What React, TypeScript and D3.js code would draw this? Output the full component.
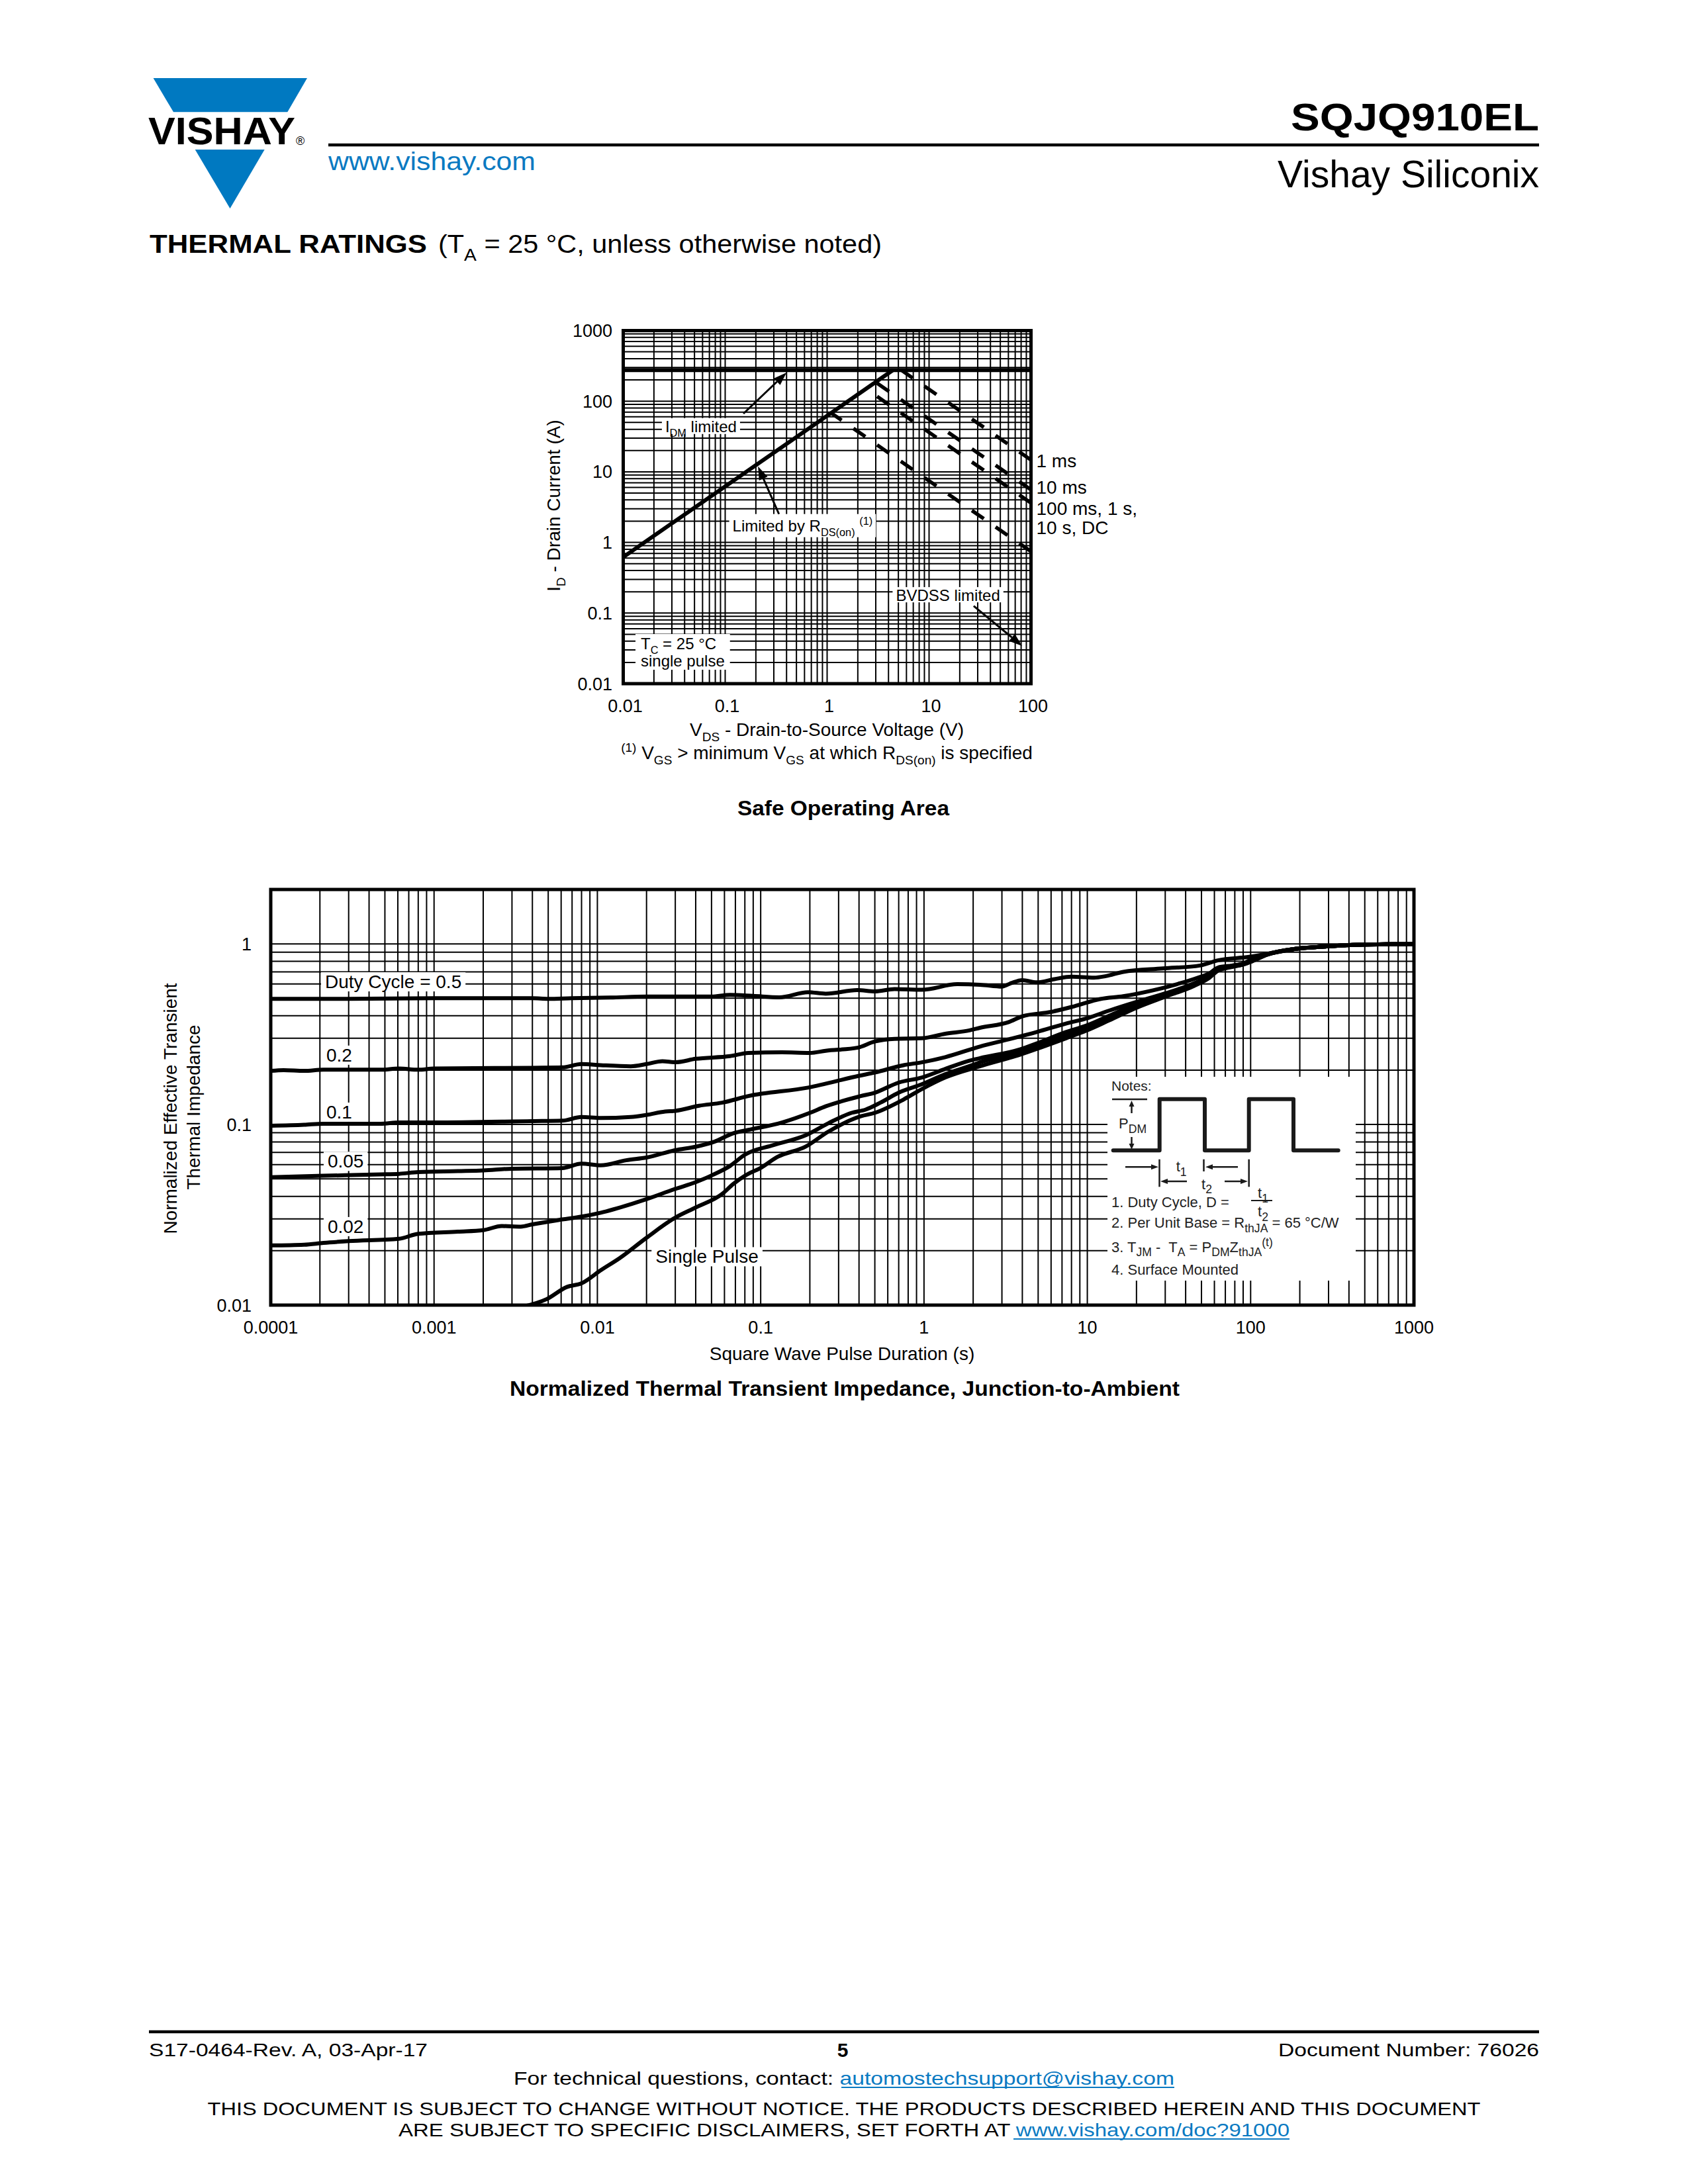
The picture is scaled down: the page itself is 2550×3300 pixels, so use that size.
import React from 'react';
import * as d3 from 'd3';

const FONT = '"Liberation Sans", Arial, Helvetica, sans-serif';
const BLUE = '#0a7ac2';

/* ---------------- Safe Operating Area (log-log) ---------------- */
const soaXTickValues = [0.01, 0.1, 1, 10, 100];
const soaXTickLabels = ['0.01', '0.1', '1', '10', '100'];
const soaYTickValues = [0.01, 0.1, 1, 10, 100, 1000];
const soaYTickLabels = ['0.01', '0.1', '1', '10', '100', '1000'];
const soaIdmLimit = 275; // A
const soaRdsLimit: [number, number][] = [[0.01, 0.62], [4.42, 275]];
const soaPulse1ms: [number, number][] = [[5.35, 275], [100, 14.7]];
const soaPulse10ms: [number, number][] = [[2.99, 186], [100, 5.57]];
const soaPulse100ms: [number, number][] = [[2.41, 150], [100, 3.62]];
const soaPulseDC: [number, number][] = [[1.095, 68], [100, 0.745]];
const soaDurationLabels = ['1 ms', '10 ms', '100 ms, 1 s,', '10 s, DC'];
const soaDurationLabelI = [14.4, 6.07, 3.04, 1.63];

/* ---------------- Normalized thermal transient impedance ---------------- */
const zthXTickValues = [1e-4, 1e-3, 0.01, 0.1, 1, 10, 100, 1000];
const zthXTickLabels = ['0.0001', '0.001', '0.01', '0.1', '1', '10', '100', '1000'];
const zthYTickValues = [0.01, 0.1, 1];
const zthYTickLabels = ['0.01', '0.1', '1'];

const zthDuty05: [number, number][] = [
  [0.0001, 0.496], [0.0003, 0.496], [0.001, 0.5], [0.004, 0.5], [0.005, 0.496], [0.007, 0.5],
  [0.012, 0.504], [0.02, 0.511], [0.05, 0.511], [0.065, 0.522], [0.09, 0.515], [0.13, 0.506],
  [0.195, 0.54], [0.25, 0.53], [0.39, 0.555], [0.5, 0.546], [0.66, 0.562], [0.97, 0.557],
  [1.6, 0.598], [2.2, 0.594], [3.0, 0.58], [3.4, 0.605], [4.0, 0.63], [4.9, 0.612], [6.3, 0.638],
  [8.0, 0.658], [11, 0.65], [13, 0.663], [16.6, 0.7], [29, 0.731], [49, 0.759], [63, 0.81],
  [98, 0.847], [126, 0.878], [188, 0.938], [282, 0.966], [423, 0.987], [1000, 1.0],
];
const zthDuty02: [number, number][] = [
  [0.0001, 0.198], [0.00012, 0.2], [0.00016, 0.198], [0.00021, 0.201], [0.00047, 0.201],
  [0.00061, 0.204], [0.0008, 0.201], [0.001, 0.204], [0.004, 0.206], [0.0061, 0.207],
  [0.008, 0.216], [0.0105, 0.213], [0.016, 0.21], [0.02, 0.216], [0.025, 0.224], [0.03, 0.221],
  [0.04, 0.231], [0.065, 0.239], [0.084, 0.249], [0.135, 0.251], [0.2, 0.249], [0.25, 0.256],
  [0.39, 0.266], [0.5, 0.288], [0.66, 0.298], [0.97, 0.3], [1.35, 0.318], [1.9, 0.332],
  [2.2, 0.343], [3.3, 0.369], [4.0, 0.397], [6.0, 0.42], [8.3, 0.451], [12, 0.495], [16.6, 0.513],
  [25, 0.552], [37, 0.605], [47.5, 0.65], [56, 0.687], [63, 0.739], [77, 0.759], [91, 0.781],
  [102, 0.826], [126, 0.878], [188, 0.938], [282, 0.966], [423, 0.987], [1000, 1.0],
];
const zthDuty01: [number, number][] = [
  [0.0001, 0.0984], [0.00016, 0.0996], [0.00021, 0.101], [0.00047, 0.101], [0.00061, 0.1026],
  [0.001, 0.1026], [0.004, 0.1044], [0.0061, 0.105], [0.008, 0.11], [0.0105, 0.1086],
  [0.016, 0.11], [0.02, 0.113], [0.026, 0.118], [0.03, 0.119], [0.042, 0.127], [0.058, 0.132],
  [0.084, 0.1436], [0.195, 0.16], [0.4, 0.186], [0.5, 0.194], [0.75, 0.213], [0.97, 0.221],
  [1.35, 0.236], [2.2, 0.27], [3.3, 0.296], [4.9, 0.325], [7.4, 0.362], [10.2, 0.39],
  [13.6, 0.427], [20, 0.477], [30, 0.532], [45, 0.605], [56, 0.665], [63, 0.725], [77, 0.755],
  [91, 0.778], [102, 0.815], [126, 0.876], [188, 0.938], [282, 0.966], [423, 0.987], [1000, 1.0],
];
const zthDuty005: [number, number][] = [
  [0.0001, 0.0511], [0.00021, 0.052], [0.00047, 0.0529], [0.00061, 0.0533], [0.0008, 0.0545],
  [0.0014, 0.0552], [0.002, 0.0557], [0.003, 0.0569], [0.0061, 0.0574], [0.008, 0.0607],
  [0.0105, 0.0594], [0.015, 0.0634], [0.02, 0.0656], [0.03, 0.0721], [0.04, 0.0753],
  [0.052, 0.0803], [0.068, 0.0894], [0.084, 0.0933], [0.135, 0.1026], [0.2, 0.116], [0.25, 0.126],
  [0.41, 0.1436], [0.5, 0.15], [0.7, 0.1706], [0.97, 0.182], [1.35, 0.203], [1.9, 0.2256],
  [2.2, 0.233], [3.9, 0.261], [4.9, 0.281], [7.4, 0.325], [9.8, 0.352], [13.6, 0.4], [20, 0.465],
  [30, 0.525], [45, 0.597], [56, 0.66], [63, 0.72], [77, 0.752], [91, 0.775], [102, 0.81],
  [126, 0.874], [188, 0.938], [282, 0.966], [423, 0.987], [1000, 1.0],
];
const zthDuty002: [number, number][] = [
  [0.0001, 0.0214], [0.00016, 0.0216], [0.00021, 0.0221], [0.0003, 0.0226], [0.00061, 0.0233],
  [0.0008, 0.0248], [0.0014, 0.0255], [0.002, 0.026], [0.0026, 0.0274], [0.0034, 0.0272],
  [0.004, 0.028], [0.0061, 0.0298], [0.008, 0.0309], [0.0105, 0.0325], [0.016, 0.0362],
  [0.02, 0.0386], [0.03, 0.044], [0.04, 0.0479], [0.05, 0.0522], [0.065, 0.059], [0.08, 0.068],
  [0.12, 0.0769], [0.19, 0.0875], [0.26, 0.1017], [0.36, 0.116], [0.44, 0.121], [0.54, 0.132],
  [0.7, 0.15], [0.97, 0.167], [1.35, 0.19], [2.0, 0.214], [2.2, 0.221], [3.9, 0.25], [4.9, 0.27],
  [7.4, 0.31], [9.8, 0.34], [13.6, 0.387], [20, 0.452], [30, 0.515], [45, 0.59], [56, 0.655],
  [63, 0.715], [77, 0.748], [91, 0.772], [102, 0.805], [126, 0.872], [188, 0.938], [282, 0.966],
  [423, 0.987], [1000, 1.0],
];
const zthSinglePulse: [number, number][] = [
  [0.0035, 0.0098], [0.0049, 0.0108], [0.0065, 0.0126], [0.008, 0.0132], [0.0105, 0.0156],
  [0.0137, 0.0182], [0.02, 0.0236], [0.03, 0.0305], [0.04, 0.0347], [0.058, 0.0412],
  [0.068, 0.0469], [0.084, 0.0533], [0.098, 0.0569], [0.127, 0.0662], [0.188, 0.0753],
  [0.26, 0.0914], [0.41, 0.111], [0.5, 0.116], [0.75, 0.1375], [0.97, 0.157], [1.35, 0.182],
  [2.2, 0.21], [3.9, 0.244], [4.9, 0.262], [7.4, 0.3], [9.8, 0.33], [13.6, 0.377], [20, 0.443],
  [30, 0.51], [45, 0.585], [56, 0.65], [63, 0.71], [77, 0.745], [91, 0.77], [102, 0.8],
  [126, 0.87], [188, 0.938], [282, 0.966], [423, 0.987], [1000, 1.0],
];
const zthCurves = [zthDuty05, zthDuty02, zthDuty01, zthDuty005, zthDuty002, zthSinglePulse];
const zthCurveLabels = ['Duty Cycle = 0.5', '0.2', '0.1', '0.05', '0.02', 'Single Pulse'];
const zthCurveLabelAt: [number, number][] = [
  [2.15e-4, 0.569], [2.19e-4, 0.2233], [2.19e-4, 0.108], [2.23e-4, 0.0577], [2.23e-4, 0.0251], [0.0227, 0.0171],
];

/* ---------------- helpers ---------------- */
let _ctx: CanvasRenderingContext2D | null = null;
function textW(t: string, size: number, weight: string | number = 'normal') {
  if (!_ctx) _ctx = document.createElement('canvas').getContext('2d');
  _ctx!.font = `${weight} ${size}px ${FONT}`;
  return _ctx!.measureText(t).width;
}
type Seg = [string, string?];
const SUB = 0.68;
function richW(segs: Seg[], size: number, weight: string | number = 'normal', sub = SUB) {
  return segs.reduce((s, [t, k]) => s + textW(t, k ? size * sub : size, weight), 0);
}
function Rich({ x, y, segs, size, anchor = 'start', weight = 'normal', fill = '#000', transform, textLength, sub = SUB }: any) {
  let cur = 0;
  return (
    <text x={x} y={y} fontSize={size} fontWeight={weight} textAnchor={anchor} fill={fill}
      transform={transform} textLength={textLength} lengthAdjust={textLength ? 'spacingAndGlyphs' : undefined}
      style={{ whiteSpace: 'pre' }}>
      {segs.map(([t, k]: Seg, i: number) => {
        const target = k === 'sub' ? size * 0.3 : k === 'sup' ? -size * 0.4 : 0;
        const dy = target - cur;
        cur = target;
        return <tspan key={i} dy={dy} fontSize={k ? size * sub : size}>{t}</tspan>;
      })}
    </text>
  );
}
function Arrow({ x1, y1, x2, y2, w = 3, head = 20, half = 7, color = '#000' }: any) {
  const a = Math.atan2(y2 - y1, x2 - x1);
  const bx = x2 - head * Math.cos(a), by = y2 - head * Math.sin(a);
  const px = -Math.sin(a) * half, py = Math.cos(a) * half;
  return (
    <g>
      <line x1={x1} y1={y1} x2={bx} y2={by} stroke={color} strokeWidth={w} />
      <polygon points={`${x2},${y2} ${bx + px},${by + py} ${bx - px},${by - py}`} fill={color} />
    </g>
  );
}
function logGrid(min: number, max: number) {
  const out: number[] = [];
  for (let e = Math.floor(Math.log10(min)); e <= Math.ceil(Math.log10(max)); e++) {
    for (let m = 1; m <= 9; m++) {
      const v = m * Math.pow(10, e);
      if (v >= min * 0.9999 && v <= max * 1.0001) out.push(v);
    }
  }
  return out;
}

/* ---------------- Safe Operating Area chart ---------------- */
function SOAChart() {
  const x = d3.scaleLog().domain([0.01, 100]).range([941.5, 1557.5]);
  const y = d3.scaleLog().domain([0.01, 1000]).range([1033, 499.5]);
  const L = 941.5, R = 1557.5, T = 499.5, B = 1033;
  const DASH_PERIOD = 35.8, DASH_LEN = 18;
  const phase = x(1.06);
  const dashSegs = (p: [number, number][]) => {
    const x0 = x(p[0][0]), y0 = y(p[0][1]), x1 = x(p[1][0]), y1 = y(p[1][1]);
    const m = (y1 - y0) / (x1 - x0);
    const segs: number[][] = [];
    for (let k = Math.floor((x0 - phase) / DASH_PERIOD); phase + k * DASH_PERIOD < x1; k++) {
      const a = Math.max(x0, phase + k * DASH_PERIOD);
      const b = Math.min(x1, phase + k * DASH_PERIOD + DASH_LEN);
      if (b > a) segs.push([a, y0 + m * (a - x0), b, y0 + m * (b - x0)]);
    }
    return segs;
  };
  const pulses = [soaPulse1ms, soaPulse10ms, soaPulse100ms, soaPulseDC];

  const idmSegs: Seg[] = [['I'], ['DM', 'sub'], [' limited']];
  const idmX = x(0.0258), idmY = y(36.6);
  const idmW = richW(idmSegs, 24);
  const rdsSegs: Seg[] = [['Limited by R'], ['DS(on)', 'sub'], [' '], ['(1)', 'sup']];
  const rdsX = x(0.118), rdsY = y(1.44);
  const rdsW = richW(rdsSegs, 24);
  const tcSegs: Seg[] = [['T'], ['C', 'sub'], [' = 25 °C']];
  const tcX = x(0.01486);
  const tcY1 = y(0.0307), tcY2 = y(0.01754);
  const tcW = Math.max(richW(tcSegs, 24), textW('single pulse', 24));
  const bvX = x(4.73), bvY = y(0.148);
  const bvW = textW('BVDSS limited', 24);

  return (
    <g>
      <defs>
        <clipPath id="soaClip"><rect x={L} y={T} width={R - L} height={B - T} /></clipPath>
      </defs>
      {logGrid(0.01, 100).map((v, i) => (
        <line key={'vx' + i} x1={x(v)} x2={x(v)} y1={T} y2={B} stroke="#000" strokeWidth={2} />
      ))}
      {logGrid(0.01, 1000).map((v, i) => (
        <line key={'hy' + i} x1={L} x2={R} y1={y(v)} y2={y(v)} stroke="#000" strokeWidth={2} />
      ))}
      {/* label knock-outs */}
      <rect x={idmX - 5} y={idmY - 21} width={idmW + 10} height={24} fill="#fff" />
      <rect x={rdsX - 5} y={rdsY - 26} width={rdsW + 10} height={35} fill="#fff" />
      <rect x={tcX - 8} y={tcY1 - 23} width={tcW + 16} height={tcY2 - tcY1 + 28} fill="#fff" />
      <rect x={bvX - 5} y={bvY - 21} width={bvW + 10} height={23} fill="#fff" />

      <g clipPath="url(#soaClip)">
        <line x1={L} x2={R} y1={y(soaIdmLimit)} y2={y(soaIdmLimit)} stroke="#000" strokeWidth={6} />
        <line x1={x(soaRdsLimit[0][0])} y1={y(soaRdsLimit[0][1])} x2={x(soaRdsLimit[1][0])} y2={y(soaRdsLimit[1][1])}
          stroke="#000" strokeWidth={6} />
        {pulses.map((p, i) => dashSegs(p).map((s, j) => (
          <line key={`d${i}-${j}`} x1={s[0]} y1={s[1]} x2={s[2]} y2={s[3]} stroke="#000" strokeWidth={5.5} />
        )))}
      </g>

      {/* annotations */}
      <Arrow x1={x(0.151)} y1={y(66.7)} x2={x(0.40)} y2={y(254)} w={3} head={20} half={7} />
      <Arrow x1={x(0.337)} y1={y(2.52)} x2={x(0.21)} y2={y(11.9)} w={3} head={20} half={7} />
      <Arrow x1={x(27.4)} y1={y(0.126)} x2={x(81.7)} y2={y(0.0343)} w={3} head={20} half={7} />

      <Rich x={idmX} y={idmY} size={24} segs={idmSegs} />
      <Rich x={rdsX} y={rdsY} size={24} segs={rdsSegs} />
      <Rich x={tcX} y={tcY1} size={24} segs={tcSegs} />
      <text x={tcX} y={tcY2} fontSize={24}>single pulse</text>
      <text x={bvX} y={bvY} fontSize={24}>BVDSS limited</text>

      <rect x={L} y={T} width={R - L} height={B - T} fill="none" stroke="#000" strokeWidth={5} />

      {soaYTickValues.map((v, i) => (
        <text key={'yt' + i} x={925} y={y(v) + 9.5} fontSize={27} textAnchor="end">{soaYTickLabels[i]}</text>
      ))}
      {soaXTickValues.map((v, i) => (
        <text key={'xt' + i} x={x(v) + 3} y={1076} fontSize={27} textAnchor="middle">{soaXTickLabels[i]}</text>
      ))}
      {soaDurationLabels.map((t, i) => (
        <text key={'dl' + i} x={R + 8} y={y(soaDurationLabelI[i]) + 10} fontSize={28} style={{ whiteSpace: 'pre' }}>{t}</text>
      ))}
      <Rich x={1249} y={1112} size={28} anchor="middle"
        segs={[['V'], ['DS', 'sub'], [' - Drain-to-Source Voltage (V)']]} />
      <Rich x={1249} y={1147} size={28} anchor="middle"
        segs={[['(1)', 'sup'], [' V'], ['GS', 'sub'], [' > minimum V'], ['GS', 'sub'], [' at which R'], ['DS(on)', 'sub'], [' is specified']]} />
      <Rich x={846} y={764} size={28} anchor="middle" transform="rotate(-90 846 764)"
        segs={[['I'], ['D', 'sub'], [' - Drain Current (A)']]} />
      <text x={1274} y={1232} fontSize={31} fontWeight="bold" textAnchor="middle" textLength={320}
        lengthAdjust="spacingAndGlyphs">Safe Operating Area</text>
    </g>
  );
}

/* ---------------- Thermal impedance chart ---------------- */
function ZthChart() {
  const x = d3.scaleLog().domain([1e-4, 1000]).range([409, 2136]);
  const y = d3.scaleLog().domain([0.01, 2]).range([1972, 1344]);
  const L = 409, R = 2136, T = 1344, B = 1972;
  const line = d3.line<[number, number]>().x(d => x(d[0])).y(d => y(d[1])).curve(d3.curveMonotoneX);
  const ink = '#1a1a1a';
  const nt = '#222';
  const ns = 0.8;
  return (
    <g>
      <defs>
        <clipPath id="zthClip"><rect x={L} y={T} width={R - L} height={B - T} /></clipPath>
      </defs>
      {logGrid(1e-4, 1000).map((v, i) => (
        <line key={'zv' + i} x1={x(v)} x2={x(v)} y1={T} y2={B} stroke="#000" strokeWidth={2} />
      ))}
      {logGrid(0.01, 1).map((v, i) => (
        <line key={'zh' + i} x1={L} x2={R} y1={y(v)} y2={y(v)} stroke="#000" strokeWidth={2} />
      ))}
      {zthCurveLabels.map((t, i) => {
        const lx = x(zthCurveLabelAt[i][0]), ly = y(zthCurveLabelAt[i][1]);
        return <rect key={'lb' + i} x={lx - 6} y={ly - 24} width={textW(t, 28) + 12} height={29} fill="#fff" />;
      })}
      {/* notes panel */}
      <rect x={1673} y={1627} width={375} height={308} fill="#fff" />

      <g clipPath="url(#zthClip)">
        {zthCurves.map((c, i) => (
          <path key={'c' + i} d={line(c) || ''} fill="none" stroke="#000" strokeWidth={6} strokeLinejoin="round" />
        ))}
      </g>
      {zthCurveLabels.map((t, i) => (
        <text key={'lt' + i} x={x(zthCurveLabelAt[i][0])} y={y(zthCurveLabelAt[i][1])} fontSize={28}>{t}</text>
      ))}

      {/* notes content */}
      <g fill={nt} stroke="none">
        <text x={1679} y={1648} fontSize={21} fill={nt}>Notes:</text>
        <line x1={1680} y1={1661} x2={1733} y2={1661} stroke={ink} strokeWidth={2.5} />
        <Arrow x1={1709.5} y1={1682} x2={1709.5} y2={1663} w={2.5} head={9} half={4} color={ink} />
        <Rich x={1690} y={1705} size={22} fill={nt} sub={ns} segs={[['P'], ['DM', 'sub']]} />
        <Arrow x1={1709.5} y1={1718} x2={1709.5} y2={1737} w={2.5} head={9} half={4} color={ink} />
        <polyline points="1681.7,1738.3 1751.7,1738.3 1751.7,1660.7 1820,1660.7 1820,1738.3 1886.7,1738.3 1886.7,1660.7 1954,1660.7 1954,1738.3 2021.7,1738.3"
          fill="none" stroke={ink} strokeWidth={6} strokeLinejoin="round" strokeLinecap="round" />
        <Arrow x1={1700} y1={1763.3} x2={1750} y2={1763.3} w={2.5} head={11} half={4} color={ink} />
        <line x1={1751.5} y1={1751.7} x2={1751.5} y2={1793.3} stroke={ink} strokeWidth={2.5} />
        <line x1={1818.5} y1={1751.7} x2={1818.5} y2={1770} stroke={ink} strokeWidth={2.5} />
        <Arrow x1={1870} y1={1763.3} x2={1821} y2={1763.3} w={2.5} head={11} half={4} color={ink} />
        <Rich x={1776.7} y={1770} size={22} fill={nt} sub={ns} segs={[['t'], ['1', 'sub']]} />
        <Arrow x1={1793} y1={1785} x2={1753} y2={1785} w={2.5} head={11} half={4} color={ink} />
        <Arrow x1={1850} y1={1785} x2={1885} y2={1785} w={2.5} head={11} half={4} color={ink} />
        <line x1={1886.7} y1={1751.7} x2={1886.7} y2={1793.3} stroke={ink} strokeWidth={2.5} />
        <Rich x={1815} y={1796.7} size={22} fill={nt} sub={ns} segs={[['t'], ['2', 'sub']]} />
        <text x={1679} y={1824} fontSize={22} fill={nt}>1. Duty Cycle, D =</text>
        <Rich x={1900} y={1810} size={22} fill={nt} sub={ns} segs={[['t'], ['1', 'sub']]} />
        <line x1={1890} y1={1814} x2={1922} y2={1814} stroke={ink} strokeWidth={2} />
        <Rich x={1900} y={1838} size={22} fill={nt} sub={ns} segs={[['t'], ['2', 'sub']]} />
        <Rich x={1679} y={1855} size={22} fill={nt} sub={ns} segs={[['2. Per Unit Base = R'], ['thJA', 'sub'], [' = 65 °C/W']]} />
        <Rich x={1679} y={1891.7} size={22} fill={nt} sub={ns}
          segs={[['3. T'], ['JM', 'sub'], [' -  T'], ['A', 'sub'], [' = P'], ['DM', 'sub'], ['Z'], ['thJA', 'sub'], ['(t)', 'sup']]} />
        <text x={1679} y={1926} fontSize={22} fill={nt}>4. Surface Mounted</text>
      </g>

      <rect x={L} y={T} width={R - L} height={B - T} fill="none" stroke="#000" strokeWidth={5} />

      {zthYTickValues.map((v, i) => (
        <text key={'zy' + i} x={380} y={y(v) + 9.5} fontSize={27} textAnchor="end">{zthYTickLabels[i]}</text>
      ))}
      {zthXTickValues.map((v, i) => (
        <text key={'zx' + i} x={x(v)} y={2015} fontSize={27} textAnchor="middle">{zthXTickLabels[i]}</text>
      ))}
      <text x={1272} y={2055} fontSize={28} textAnchor="middle">Square Wave Pulse Duration (s)</text>
      <text x={267} y={1675} fontSize={28} textAnchor="middle" transform="rotate(-90 267 1675)">Normalized Effective Transient</text>
      <text x={302} y={1673} fontSize={28} textAnchor="middle" transform="rotate(-90 302 1673)">Thermal Impedance</text>
      <text x={1276} y={2109} fontSize={31} fontWeight="bold" textAnchor="middle" textLength={1012}
        lengthAdjust="spacingAndGlyphs">Normalized Thermal Transient Impedance, Junction-to-Ambient</text>
    </g>
  );
}

/* ---------------- page furniture ---------------- */
function Header() {
  return (
    <g>
      <polygon points="231.6,118 464,118 434.3,169.3 262,169.3" fill="#0079c1" />
      <polygon points="294.7,226 399.7,226 347.5,315" fill="#0079c1" />
      <text x={224} y={218} fontSize={57} fontWeight="bold" textLength={222} lengthAdjust="spacingAndGlyphs">VISHAY</text>
      <text x={447} y={219} fontSize={18}>®</text>
      <line x1={496} y1={219} x2={2325} y2={219} stroke="#000" strokeWidth={4.5} />
      <text x={496} y={257} fontSize={38} fill={BLUE} textLength={313} lengthAdjust="spacingAndGlyphs">www.vishay.com</text>
      <text x={1950} y={197} fontSize={58} fontWeight="bold" textLength={375} lengthAdjust="spacingAndGlyphs">SQJQ910EL</text>
      <text x={2325} y={283} fontSize={57} textAnchor="end">Vishay Siliconix</text>
      <text x={226} y={382} fontSize={38} fontWeight={900} textLength={419} lengthAdjust="spacingAndGlyphs">THERMAL RATINGS</text>
      <Rich x={662} y={382} size={39} textLength={670}
        segs={[['(T'], ['A', 'sub'], [' = 25 °C, unless otherwise noted)']]} />
    </g>
  );
}

function Footer() {
  return (
    <g>
      <line x1={225} y1={3070} x2={2325} y2={3070} stroke="#000" strokeWidth={4.5} />
      <text x={225} y={3107} fontSize={28} textLength={421} lengthAdjust="spacingAndGlyphs">S17-0464-Rev. A, 03-Apr-17</text>
      <text x={1273} y={3108} fontSize={30} fontWeight="bold" textAnchor="middle">5</text>
      <text x={1931} y={3107} fontSize={28} textLength={394} lengthAdjust="spacingAndGlyphs">Document Number: 76026</text>
      <text x={776} y={3150} fontSize={28} textLength={998} lengthAdjust="spacingAndGlyphs" style={{ whiteSpace: 'pre' }}>
        <tspan>For technical questions, contact: </tspan>
        <tspan fill={BLUE}>automostechsupport@vishay.com</tspan>
      </text>
      <line x1={1271} y1={3154} x2={1774} y2={3154} stroke={BLUE} strokeWidth={2} />
      <text x={313.5} y={3196} fontSize={28} textLength={1923} lengthAdjust="spacingAndGlyphs">THIS DOCUMENT IS SUBJECT TO CHANGE WITHOUT NOTICE. THE PRODUCTS DESCRIBED HEREIN AND THIS DOCUMENT</text>
      <text x={602} y={3228} fontSize={28} textLength={1346} lengthAdjust="spacingAndGlyphs" style={{ whiteSpace: 'pre' }}>
        <tspan>ARE SUBJECT TO SPECIFIC DISCLAIMERS, SET FORTH AT </tspan>
        <tspan fill={BLUE}>www.vishay.com/doc?91000</tspan>
      </text>
      <line x1={1531} y1={3232} x2={1948} y2={3232} stroke={BLUE} strokeWidth={2} />
    </g>
  );
}

export default function App() {
  return (
    <svg width={2550} height={3300} viewBox="0 0 2550 3300"
      style={{ position: 'absolute', left: 0, top: 0, background: '#fff' }} fontFamily={FONT}>
      <rect width={2550} height={3300} fill="#fff" />
      <Header />
      <SOAChart />
      <ZthChart />
      <Footer />
    </svg>
  );
}
